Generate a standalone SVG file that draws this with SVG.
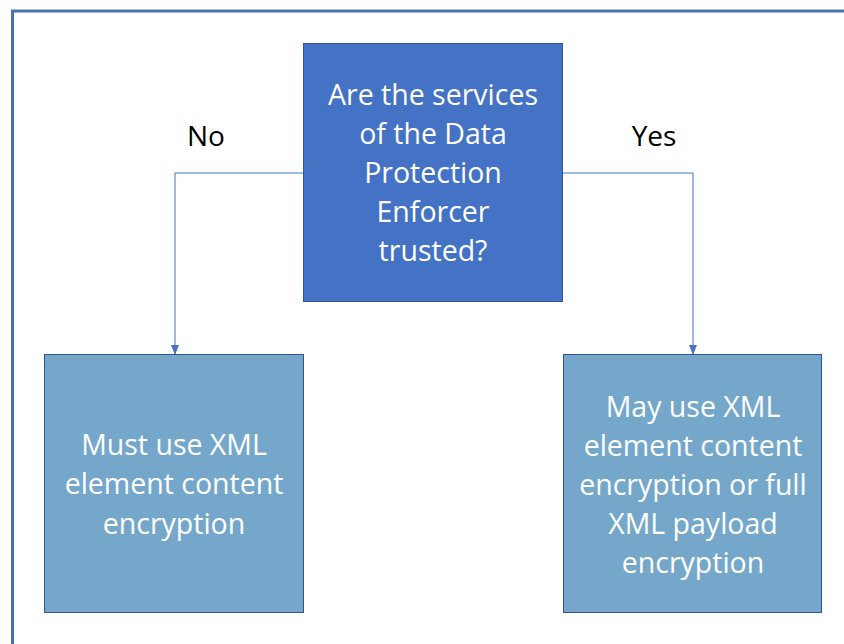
<svg xmlns="http://www.w3.org/2000/svg" width="844" height="644" viewBox="0 0 844 644">
<style>
.t{font-family:"Open Sans",Lato,"Liberation Sans",sans-serif;font-size:28.5px;fill:#fff;text-anchor:middle}
.l{font-family:"Open Sans",Lato,"Liberation Sans",sans-serif;font-size:28px;fill:#000;text-anchor:middle}
.c{fill:none;stroke:#4472c4;stroke-width:1}
</style>
<defs>
<marker id="ah" markerWidth="10" markerHeight="8" refX="9" refY="4" orient="auto" markerUnits="userSpaceOnUse">
<path d="M0,0 L10,4 L0,8 Z" fill="#4472c4"/>
</marker>
</defs>
<rect width="844" height="644" fill="#fff"/>
<rect x="12.5" y="11" width="900" height="700" fill="none" stroke="#4a72b0" stroke-width="3"/>
<g id="connectors">
<polyline class="c" points="303,173 175,173 175,354" marker-end="url(#ah)"/>
<polyline class="c" points="563,173 693,173 693,354" marker-end="url(#ah)"/>
<text class="l" x="206" y="146">No</text>
<text class="l" x="654" y="146">Yes</text>
</g>
<g id="q">
<rect x="303.5" y="43.5" width="259" height="258" fill="#4472c4" stroke="#2f5597" stroke-width="1"/>
<text class="t" x="433" y="105">Are the services</text>
<text class="t" x="433" y="144">of the Data</text>
<text class="t" x="433" y="183">Protection</text>
<text class="t" x="433" y="222">Enforcer</text>
<text class="t" x="433" y="261">trusted?</text>
</g>
<g id="no">
<rect x="44.5" y="354.5" width="259" height="258" fill="#75a7cb" stroke="#2f5597" stroke-width="1"/>
<text class="t" x="174" y="455">Must use XML</text>
<text class="t" x="174" y="494">element content</text>
<text class="t" x="174" y="534">encryption</text>
</g>
<g id="yes">
<rect x="563.5" y="354.5" width="258" height="258" fill="#75a7cb" stroke="#2f5597" stroke-width="1"/>
<text class="t" x="693" y="417">May use XML</text>
<text class="t" x="693" y="456">element content</text>
<text class="t" x="693" y="495">encryption or full</text>
<text class="t" x="693" y="534">XML payload</text>
<text class="t" x="693" y="573">encryption</text>
</g>
</svg>
